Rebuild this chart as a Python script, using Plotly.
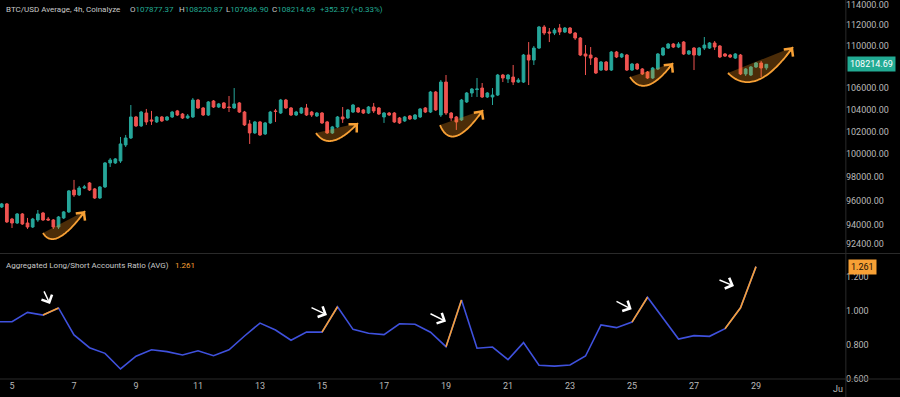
import numpy as np
import pandas as pd
import plotly.graph_objects as go

# ---------------- data ----------------
candle_start = "2025-05-04 16:00"   # 4h candles
opens = [95460, 95720, 94460, 94130, 94880, 94130, 93800, 94380, 94960, 94460,
         94380, 93800, 94550, 95050, 96900, 96480, 97070, 97500, 96990, 96220,
         97160, 99230, 99230, 99400, 100810, 101430, 103320, 102510, 103680, 103050,
         102870, 103320, 103050, 103320, 103870, 103590, 103230, 103320, 104870, 104140,
         103500, 104780, 104230, 104600, 104230, 104140, 104600, 103770, 102690, 101880,
         102870, 101790, 102780, 103870, 103680, 104870, 104140, 103500, 103680, 104140,
         103770, 103410, 103680, 102870, 101880, 102420, 103320, 103230, 103770, 104140,
         103960, 103680, 104230, 104140, 103320, 103680, 103680, 103230, 102960, 103410,
         103140, 103320, 104140, 103770, 105610, 103500, 106540, 103680, 103320, 103050,
         104690, 105520, 105840, 105980, 105150, 105150, 105330, 107200, 106830, 107010,
         106540, 106540, 109100, 108620, 109770, 111820, 111330, 111230, 111720, 111330,
         111720, 111230, 110740, 109200, 109100, 108810, 107670, 108430, 107670, 109390,
         108910, 109100, 107670, 108240, 107770, 107480, 106920, 107770, 109100, 109770,
         110160, 109870, 110350, 109200, 109770, 109100, 109770, 109770, 110260, 109970,
         109200, 109100, 108810, 109100, 107300, 107200, 107960, 108340, 107877.37]
highs = [95800, 95800, 94550, 94960, 94960, 94550, 94550, 95210, 95050, 94630,
         94460, 94710, 95130, 96900, 97760, 97240, 97330, 97580, 97070, 97240,
         99310, 99660, 99660, 101520, 101700, 104410, 103410, 103870, 104050, 103870,
         103410, 103410, 103410, 103870, 103960, 103680, 103590, 105060, 104970, 104230,
         104780, 104870, 104600, 104690, 105240, 105980, 104690, 103870, 103050, 102960,
         102960, 102870, 103870, 104050, 104970, 104970, 104230, 103870, 104230, 104510,
         103870, 103770, 103770, 102960, 102510, 103410, 104230, 104050, 104510, 104230,
         104050, 104320, 104600, 104230, 103770, 103770, 103770, 103320, 103410, 103500,
         103590, 104140, 104230, 105710, 105710, 106730, 107200, 103770, 103410, 104970,
         105610, 105980, 106920, 106450, 105610, 105980, 107300, 107300, 107300, 108150,
         106920, 109200, 110350, 109970, 111920, 112010, 111720, 111720, 112110, 111820,
         111820, 111330, 110840, 110060, 109870, 108910, 108530, 108530, 109490, 109490,
         109290, 109200, 108340, 108340, 107860, 107580, 107960, 109290, 109870, 110260,
         110260, 110350, 110450, 109580, 109870, 109870, 110840, 110350, 110450, 110060,
         109290, 109200, 109290, 109200, 107860, 108050, 108430, 108530, 108220.87]
lows = [95380, 94130, 93720, 94050, 93970, 93640, 93720, 94220, 94300, 94300,
        93640, 93640, 94460, 94960, 96310, 96390, 96990, 96820, 96140, 96140,
        97070, 98880, 99140, 99230, 100630, 101340, 102420, 102420, 102600, 102600,
        102780, 102870, 102960, 103230, 103410, 103140, 103140, 103230, 104050, 103410,
        103410, 104140, 104140, 104050, 103770, 104050, 103680, 102510, 100900, 101790,
        101610, 101700, 102690, 102870, 103590, 104050, 103410, 103410, 103590, 103410,
        103320, 103320, 102690, 101790, 101790, 102330, 102780, 103140, 103680, 103680,
        103590, 103590, 103680, 103500, 102780, 103410, 102780, 102690, 102870, 103050,
        103050, 103230, 103680, 103680, 103870, 103320, 103500, 102960, 102150, 102960,
        104600, 105150, 105150, 105060, 105060, 104410, 105240, 106540, 106450, 106260,
        106450, 106450, 106260, 108150, 109680, 111030, 110350, 111030, 111030, 111230,
        111130, 110550, 109000, 107200, 108150, 107300, 107580, 107580, 107580, 108810,
        108810, 107580, 107580, 107670, 107200, 106830, 106830, 107670, 109000, 109680,
        109770, 109770, 109100, 109100, 107670, 109000, 109580, 109680, 109580, 108810,
        108910, 108810, 108720, 107200, 107110, 107110, 107860, 107010, 107686.90]
closes = [95720, 94220, 94130, 94880, 94050, 93800, 94460, 94880, 94380, 94380,
          93800, 94630, 95050, 96820, 96480, 97070, 97160, 96900, 96220, 97160,
          99230, 99490, 99580, 100900, 101430, 103320, 102510, 103770, 102870, 102960,
          103320, 102960, 103320, 103770, 103500, 103230, 103410, 104870, 104140, 103500,
          104690, 104230, 104510, 104140, 104180, 104510, 103770, 102600, 101880, 102870,
          101700, 102780, 103770, 103820, 104870, 104140, 103500, 103770, 104140, 103500,
          103500, 103680, 102780, 101880, 102420, 103320, 103140, 103960, 104410, 103770,
          103680, 104230, 103870, 103590, 103680, 103500, 102870, 102780, 103320, 103140,
          103500, 104050, 103770, 105610, 103960, 106540, 103680, 103230, 102870, 104870,
          105520, 105890, 105890, 105150, 105520, 105330, 107200, 106920, 107200, 106540,
          106730, 109100, 108620, 109770, 111820, 111230, 111230, 111520, 111330, 111720,
          111230, 110740, 109100, 109000, 108810, 107390, 108430, 107670, 109390, 108910,
          109200, 107670, 108240, 107770, 107300, 106920, 107860, 109200, 109770, 110160,
          109870, 110160, 109200, 109490, 109100, 109770, 110060, 110260, 109870, 108910,
          109000, 108910, 109200, 107300, 107770, 107960, 108340, 107862.32, 108214.69]

ratio_start = "2025-05-04 12:00"    # 12h points
ratio = [0.937, 0.937, 0.992, 0.976, 1.018, 0.859, 0.784, 0.751, 0.659, 0.734,
         0.772, 0.761, 0.741, 0.766, 0.737, 0.772, 0.853, 0.929, 0.888, 0.828,
         0.876, 0.876, 1.025, 0.892, 0.869, 0.861, 0.925, 0.922, 0.875, 0.790,
         1.065, 0.781, 0.788, 0.714, 0.814, 0.681, 0.676, 0.682, 0.735, 0.918,
         0.902, 0.935, 1.081, 0.959, 0.835, 0.855, 0.851, 0.896, 1.019, 1.261]
highlight_segments = [(3, 4), (21, 22), (29, 30), (41, 42), (47, 49)]

day_ticks = [5, 7, 9, 11, 13, 15, 17, 19, 21, 23, 25, 27, 29]
price_ticks = [114000, 112000, 110000, 106000, 104000, 102000, 100000,
               98000, 96000, 94000, 92400]
ratio_ticks = [1.2, 1.0, 0.8, 0.6]

# drawn annotations: arcs (start, control, end) and arrows (tail, head)
arcs = [
    (("2025-05-06 00:00", 93300), ("2025-05-06 09:17", 91760), ("2025-05-07 08:31", 95120)),
    (("2025-05-14 19:21", 101870), ("2025-05-15 06:11", 100100), ("2025-05-16 03:52", 102770)),
    (("2025-05-18 19:21", 102590), ("2025-05-19 04:39", 100010), ("2025-05-20 04:39", 103950)),
    (("2025-05-24 22:27", 107010), ("2025-05-25 10:04", 104870), ("2025-05-26 07:45", 108340)),
    (("2025-05-28 02:19", 107390), ("2025-05-28 23:14", 104870), ("2025-05-30 04:39", 109870)),
]
ratio_arrows = [
    (("2025-05-06 00:15", 1.124), ("2025-05-06 05:25", 1.041)),
    (("2025-05-14 14:43", 1.024), ("2025-05-15 03:52", 0.977)),
    (("2025-05-18 10:50", 0.988), ("2025-05-19 00:00", 0.938)),
    (("2025-05-24 10:50", 1.061), ("2025-05-24 23:46", 1.010)),
    (("2025-05-27 18:35", 1.186), ("2025-05-28 06:58", 1.147)),
]

# ---------------- styling ----------------
BG = "#000000"
UP = "#26a69a"
DOWN = "#ef5350"
TEAL = "#22ab94"
BLUE = "#3f51dd"
ORANGE = "#f7a035"
GRID = "#2a2a2a"
TXT = "#c9c9c9"
AX = "#b8b8b8"
FONT = "Roboto, Inter, sans-serif"
HSIZE = 8
ASIZE = 9

candle_time = pd.date_range(candle_start, periods=len(opens), freq="4h")
ratio_time = pd.date_range(ratio_start, periods=len(ratio), freq="12h")

fig = go.Figure()

fig.add_trace(go.Candlestick(
    x=candle_time, open=opens, high=highs, low=lows, close=closes,
    increasing=dict(line=dict(color=UP, width=1), fillcolor=UP),
    decreasing=dict(line=dict(color=DOWN, width=1), fillcolor=DOWN),
    whiskerwidth=0, xaxis="x", yaxis="y", showlegend=False, hoverinfo="skip"))


def to_num(t):
    return pd.Timestamp(t).value / 1e9


def bezier(p0, p1, p2, ts):
    ts = np.asarray(ts)[:, None]
    return (1 - ts) ** 2 * p0 + 2 * ts * (1 - ts) * p1 + ts ** 2 * p2


annotations = []
for s, c, e in arcs:
    pts = [np.array([to_num(p[0]), np.log10(p[1])]) for p in (s, c, e)]
    curve = bezier(*pts, np.linspace(0, 1, 50))
    cx = pd.to_datetime(curve[:, 0], unit="s")
    cy = 10 ** curve[:, 1]
    fig.add_trace(go.Scatter(x=cx, y=cy, mode="lines", fill="toself",
                             fillcolor="rgba(247,147,26,0.30)", line=dict(width=0),
                             xaxis="x", yaxis="y", showlegend=False, hoverinfo="skip"))
    fig.add_trace(go.Scatter(x=cx, y=cy, mode="lines",
                             line=dict(color=ORANGE, width=1.8, shape="spline"),
                             xaxis="x", yaxis="y", showlegend=False, hoverinfo="skip"))
    tail = bezier(*pts, [0.9])[0]
    annotations.append(dict(
        x=pd.Timestamp(e[0]), y=np.log10(e[1]), xref="x", yref="y",
        ax=pd.to_datetime(tail[0], unit="s"), ay=tail[1], axref="x", ayref="y",
        text="", showarrow=True, arrowhead=4, arrowsize=1.4, arrowwidth=1.6,
        arrowcolor=ORANGE, standoff=0))

fig.add_trace(go.Scatter(x=ratio_time, y=ratio, mode="lines",
                         line=dict(color=BLUE, width=1.6),
                         xaxis="x2", yaxis="y2", showlegend=False, hoverinfo="skip"))
hl = [None] * len(ratio)
for a, b in highlight_segments:
    for j in range(a, b + 1):
        hl[j] = ratio[j]
fig.add_trace(go.Scatter(x=ratio_time, y=hl, mode="lines", connectgaps=False,
                         line=dict(color=ORANGE, width=1.6),
                         xaxis="x2", yaxis="y2", showlegend=False, hoverinfo="skip"))

for (tt, tv), (ht, hv) in ratio_arrows:
    annotations.append(dict(
        x=pd.Timestamp(ht), y=hv, xref="x2", yref="y2",
        ax=pd.Timestamp(tt), ay=tv, axref="x2", ayref="y2",
        text="", showarrow=True, arrowhead=4, arrowsize=1.5, arrowwidth=1.5,
        arrowcolor="#ffffff", standoff=0))

# ---------------- text ----------------
PW, PH = 845.0, 379.0
o, h, l, c = opens[-1], highs[-1], lows[-1], closes[-1]
chg = c - closes[-2]
pct = chg / closes[-2] * 100

header_items = [
    (4, "BTC/USD Average, 4h, Coinalyze"),
    (128, f"O<span style='color:{TEAL}'>{o:.2f}</span>"),
    (177, f"H<span style='color:{TEAL}'>{h:.2f}</span>"),
    (224, f"L<span style='color:{TEAL}'>{l:.2f}</span>"),
    (270, f"C<span style='color:{TEAL}'>{c:.2f}</span>"),
    (318, f"<span style='color:{TEAL}'>{chg:+.2f} ({pct:+.2f}%)</span>"),
]
for px, txt in header_items:
    annotations.append(dict(x=px / PW, y=1 - 9 / PH, xref="paper", yref="paper",
                            xanchor="left", yanchor="middle", showarrow=False,
                            text=txt, font=dict(family=FONT, size=HSIZE, color=TXT)))

annotations.append(dict(x=4 / PW, y=1 - 265 / PH, xref="paper", yref="paper",
                        xanchor="left", yanchor="middle", showarrow=False,
                        text="Aggregated Long/Short Accounts Ratio (AVG)",
                        font=dict(family=FONT, size=HSIZE, color=TXT)))
annotations.append(dict(x=173 / PW, y=1 - 265 / PH, xref="paper", yref="paper",
                        xanchor="left", yanchor="middle", showarrow=False,
                        text=f"{ratio[-1]:.3f}",
                        font=dict(family=FONT, size=HSIZE, color=ORANGE)))
annotations.append(dict(x=1, xshift=2, y=np.log10(c), xref="paper", yref="y",
                        xanchor="left", yanchor="middle", showarrow=False,
                        text=f"{c:.2f}", bgcolor=TEAL, borderpad=2,
                        font=dict(family=FONT, size=ASIZE, color="#ffffff")))
annotations.append(dict(x=1, xshift=3, y=ratio[-1], xref="paper", yref="y2",
                        xanchor="left", yanchor="middle", showarrow=False,
                        text=f"{ratio[-1]:.3f}", bgcolor=ORANGE, borderpad=2,
                        font=dict(family=FONT, size=ASIZE, color="#1a1206")))
annotations.append(dict(x=1, xshift=0, y=-10 / PH, xref="paper", yref="paper",
                        xanchor="right", yanchor="middle", showarrow=False,
                        text="Ju", font=dict(family=FONT, size=ASIZE, color=AX)))

x0 = pd.Timestamp("2025-05-04 14:42")
x1 = pd.Timestamp("2025-05-31 20:54")
tickvals = [pd.Timestamp(f"2025-05-{d:02d}") for d in day_ticks]

shapes = [
    dict(type="line", xref="paper", yref="paper", x0=0, x1=900 / PW,
         y0=1 - 253.5 / PH, y1=1 - 253.5 / PH, line=dict(color=GRID, width=1)),
    dict(type="line", xref="paper", yref="paper", x0=0, x1=900 / PW,
         y0=0, y1=0, line=dict(color=GRID, width=1)),
    dict(type="line", xref="paper", yref="paper", x0=1.001, x1=1.001,
         y0=-18 / PH, y1=1, line=dict(color=GRID, width=1)),
]

fig.update_layout(
    width=900, height=397,
    margin=dict(l=0, r=55, t=0, b=18),
    paper_bgcolor=BG, plot_bgcolor=BG,
    showlegend=False, hovermode=False,
    boxgap=0.25,
    font=dict(family=FONT, size=ASIZE, color=AX),
    xaxis=dict(domain=[0, 1], anchor="y", range=[x0, x1], type="date",
               showticklabels=False, showgrid=False, zeroline=False,
               rangeslider=dict(visible=False), matches="x2", fixedrange=True),
    xaxis2=dict(domain=[0, 1], anchor="y2", range=[x0, x1], type="date",
                tickvals=tickvals, ticktext=[str(d) for d in day_ticks],
                showgrid=False, zeroline=False, ticks="", fixedrange=True,
                tickfont=dict(family=FONT, size=ASIZE, color=AX)),
    yaxis=dict(domain=[1 - 253 / PH, 1], anchor="x", type="log",
               range=[4.96228, 5.05882], side="right",
               tickvals=price_ticks, ticktext=[f"{v:.2f}" for v in price_ticks],
               showgrid=False, zeroline=False, ticks="", fixedrange=True,
               tickfont=dict(family=FONT, size=ASIZE, color=AX)),
    yaxis2=dict(domain=[0, 125 / PH], anchor="x2", range=[0.6, 1.3353], side="right",
                tickvals=ratio_ticks, ticktext=[f"{v:.3f}" for v in ratio_ticks],
                showgrid=False, zeroline=False, ticks="", fixedrange=True,
                tickfont=dict(family=FONT, size=ASIZE, color=AX)),
    annotations=annotations,
    shapes=shapes,
)

fig.write_html("out.html", config={"displayModeBar": False, "staticPlot": True},
               post_script="document.body.style.margin='0';document.body.style.background='#000';")
